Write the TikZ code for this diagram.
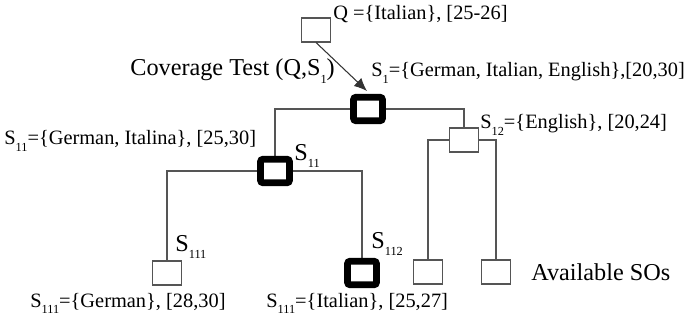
\documentclass[tikz,border=0pt]{standalone}
\usepackage{fontspec}
\setmainfont{Liberation Serif}
\usetikzlibrary{arrows.meta,positioning,backgrounds}
\definecolor{lineg}{RGB}{85,85,85}
\newcommand\lsub[1]{\raisebox{-0.7ex}{\fontsize{7}{8}\selectfont #1}}
\tikzset{
    plainbox/.style={
        draw=lineg, fill=white, line width=0.6pt, inner sep=0pt,
        minimum width=0.58cm, minimum height=0.48cm
    },
    hitbox/.style={
        plainbox, draw=black, line width=3.9pt, rounded corners=1.5pt,
        minimum height=0.47cm
    },
    setlabel/.style={anchor=west, inner sep=0pt, font=\fontsize{11.6}{13}\selectfont},
    bigname/.style={anchor=west, inner sep=0pt, font=\fontsize{13.8}{15}\selectfont},
    link/.style={draw=lineg, line width=0.6pt}
}

\begin{document}
\begin{tikzpicture}[x=0.02cm, y=-0.02cm]
    \useasboundingbox (0,0) rectangle (689,324);
    % query and the tree of service descriptions
    \node[plainbox] (q) at (316,30) {};
    \node[hitbox] (root) at (368,109) {};
    \node[hitbox] (s11) at (275,171) {};
    \node[plainbox] (s12) at (464,140) {};
    \node[plainbox] (s111) at (167,273) {};
    \node[hitbox] (s112) at (362,273) {};
    \node[plainbox] (so1) at (428,272) {};
    \node[plainbox] (so2) at (496,272) {};
    \coordinate (tip) at (367,91);

    \begin{scope}[on background layer]
        \draw[link] (root) -| (s11);
        \draw[link] (root) -| (s12);
        \draw[link] (s11) -| (s111);
        \draw[link] (s11) -| (s112);
        \draw[link] (s12) -| (so1);
        \draw[link] (s12) -| (so2);
    \end{scope}
    \draw[-{Latex[length=2.6mm, width=2.2mm]}, line width=0.6pt, draw=black!80] (q.south) -- (tip);

    % labels
    \node[setlabel] (qlab) at (333,14) {Q =\{Italian\}, [25-26]};
    \node[bigname] (covlab) at (130,71) {Coverage Test (Q,S\lsub{1})};
    \node[setlabel] (s1lab) at (371,73) {S\lsub{1}=\{German, Italian, English\},[20,30]};
    \node[setlabel] (s11lab) at (4,141) {S\lsub{11}=\{German, Italina\}, [25,30]};
    \node[bigname] (s11name) at (294,156) {S\lsub{11}};
    \node[setlabel] (s12lab) at (480,125) {S\lsub{12}=\{English\}, [20,24]};
    \node[bigname] (s111name) at (175,247) {S\lsub{111}};
    \node[bigname] (s112name) at (371,244) {S\lsub{112}};
    \node[bigname] (solab) at (531,272) {Available SOs};
    \node[setlabel, anchor=base west] (s111lab) at (30,307) {S\lsub{111}=\{German\}, [28,30]};
    \node[setlabel, anchor=base west] (s112lab) at (266,307) {S\lsub{111}=\{Italian\}, [25,27]};
\end{tikzpicture}
\end{document}
